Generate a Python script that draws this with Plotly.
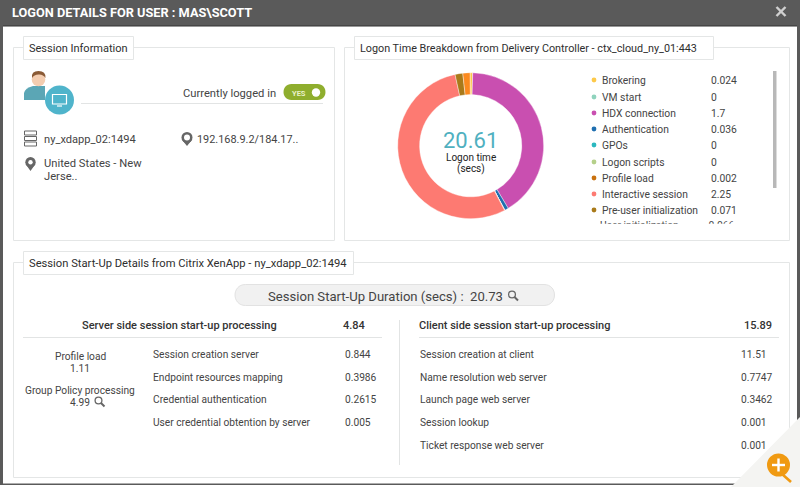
import plotly.graph_objects as go

# donut values
logon_labels = ["Brokering", "VM start", "HDX connection", "Authentication", "GPOs", "Logon scripts",
                "Profile load", "Interactive session", "Pre-user initialization", "User initialization"]
logon_values = [0.024, 0, 1.7, 0.036, 0, 0, 0.002, 2.25, 0.071, 0.066]
logon_text = ["0.024", "0", "1.7", "0.036", "0", "0", "0.002", "2.25", "0.071", "0.066"]
logon_colors = ["#fdc94a", "#8fd3bd", "#c94fb0", "#1f6fb0", "#2bb8bf", "#b5d08a",
                "#c9720f", "#fd7a72", "#a97a1a", "#fb8a1f"]
logon_total = "20.61"

server_labels = ["Session creation server", "Endpoint resources mapping",
                 "Credential authentication", "User credential obtention by server"]
server_values = ["0.844", "0.3986", "0.2615", "0.005"]
client_labels = ["Session creation at client", "Name resolution web server", "Launch page web server",
                 "Session lookup", "Ticket response web server"]
client_values = ["11.51", "0.7747", "0.3462", "0.001", "0.001"]

FONT = "Roboto"
TXT = "#444444"
BORDER = "#e4e6e6"

shapes = []
annotations = []


def rect(x0, y0, x1, y1, fill, line=None, width=1, layer="below"):
    shapes.append(dict(type="rect", x0=x0, y0=y0, x1=x1, y1=y1, fillcolor=fill, layer=layer,
                       line=dict(color=line or fill, width=width if line else 0)))


def circle(cx, cy, r, fill, line=None, width=1):
    shapes.append(dict(type="circle", x0=cx - r, y0=cy - r, x1=cx + r, y1=cy + r, fillcolor=fill,
                       layer="above", line=dict(color=line or fill, width=width if line else 0)))


def seg(x0, y0, x1, y1, color, width=1, layer="below"):
    shapes.append(dict(type="line", x0=x0, y0=y0, x1=x1, y1=y1, layer=layer, line=dict(color=color, width=width)))


def path(d, fill, line=None, width=1):
    shapes.append(dict(type="path", path=d, fillcolor=fill, layer="above",
                       line=dict(color=line or fill, width=width if line else 0)))


def pill(x0, y0, x1, y1, fill, line=None):
    # plotly paths have no arcs, so the round ends are cubic curves
    r = (y1 - y0) / 2
    k = r * 1.33
    path(f"M{x0 + r},{y0} L{x1 - r},{y0} C{x1 - r + k},{y0} {x1 - r + k},{y1} {x1 - r},{y1} "
         f"L{x0 + r},{y1} C{x0 + r - k},{y1} {x0 + r - k},{y0} {x0 + r},{y0} Z", fill, line)


def pin(cx, top, bottom, r, inner):
    cy = top + r
    path(f"M{cx - r * 0.95},{cy + r * 0.35} L{cx},{bottom} L{cx + r * 0.95},{cy + r * 0.35} Z", "#666666")
    circle(cx, cy, r, "#666666")
    circle(cx, cy, inner, "#ffffff")


def text(x, y, s, size=10.2, color=TXT, anchor="left", weight=400):
    annotations.append(dict(x=x, y=y, text=s, showarrow=False, xanchor=anchor, yanchor="middle",
                            borderpad=0, borderwidth=0,
                            font=dict(family=FONT, size=size, color=color, weight=weight)))


def lens(cx, cy, color="#666666"):
    circle(cx, cy, 3.4, "rgba(0,0,0,0)", color, 1.3)
    seg(cx + 2.5, cy + 2.5, cx + 6, cy + 6, color, 2, "above")


def panel(x0, y0, x1, y1, title, tx1, size):
    rect(x0, y0, x1, y1, "#ffffff", BORDER, 1)
    rect(x0 + 10, y0 - 11, tx1, y0 + 12, "#ffffff", BORDER, 1)
    text(x0 + 15, y0 + 1, title, size, "#2e2e2e")


# window frame
rect(0, 0, 800, 487, "#ffffff")
rect(0, 0, 800, 485, "#5a5a5a")
rect(3, 26, 797, 483.5, "#ffffff")
seg(3, 26, 797, 26, "#333333", 1)
text(12, 12, "LOGON DETAILS FOR USER : MAS\\SCOTT", 12.75, "#ffffff", weight=700)
seg(776.5, 7, 785.5, 16, "#d0d0d0", 2.4, "above")
seg(785.5, 7, 776.5, 16, "#d0d0d0", 2.4, "above")

panel(13.5, 47.5, 334.5, 240.5, "Session Information", 133.5, 11)
panel(344.5, 47.5, 789.5, 240.5, "Logon Time Breakdown from Delivery Controller - ctx_cloud_ny_01:443", 713.5, 10.8)
panel(13.5, 262.5, 789.5, 477.5, "Session Start-Up Details from Citrix XenApp - ny_xdapp_02:1494", 353.5, 11.2)

# session info
path("M24,100 L24,93 Q25,88 33,86 L45,86 L45,100 Z", "#5ba6b5")
circle(38.5, 79.5, 6.8, "#f4cdb0")
path("M32,78 Q31,71 38.5,71 Q46,71 45.5,78 Q43,74 38.5,74.5 Q34,74.5 32,78 Z", "#8a5a35")
circle(59.5, 100, 14.5, "#4fb4cb")
rect(52.5, 94.5, 66.5, 104, "rgba(0,0,0,0)", "#ffffff", 1.2, "above")
seg(57, 106, 62, 106, "#ffffff", 1.2, "above")
seg(81, 103.5, 323, 103.5, "#e2e4e4", 1)
text(276, 93, "Currently logged in", 11.2, anchor="right")
pill(283.5, 84, 325.5, 100, "#8fae2e")
circle(316, 92.5, 4.2, "#ffffff")
text(299, 93, "YES", 7.5, "#e9f1c8", "center", 700)
for y in (133, 138.5, 144):
    rect(24.5, y - 2, 36.5, y + 2, "#ffffff", "#666666", 1, "above")
text(43.5, 139, "ny_xdapp_02:1494", 11.1)
pin(187, 132, 146, 5.5, 3)
text(196.5, 139, "192.168.9.2/184.17..", 10.9)
pin(30.5, 157, 171, 5.2, 2.2)
text(43.5, 163, "United States - New", 11.2)
text(43.5, 176.5, "Jerse..", 11.2)

# legend rows next to the donut, last one is cut off by the scroll area
row_y = [80, 97, 113, 129, 145, 162, 178, 194, 210, 226]
for yy, lab, val, col in zip(row_y[:-1], logon_labels, logon_text, logon_colors):
    circle(594, yy, 2.4, col)
    text(602, yy, lab, 10.3)
    text(710.5, yy, val, 10.3)
rect(588, 223.7, 765, 234, "#ffffff", layer="above")
rect(773, 71, 776.5, 188, "#b8b8b8", layer="above")

# donut centre
text(470.5, 140, logon_total, 22, "#4fb0bf", "center")
text(470.5, 157.6, "Logon time", 10, "#222222", "center")
text(470.5, 168.8, "(secs)", 10, "#222222", "center")

# start-up duration pill
pill(235, 284.5, 554.5, 305.5, "#f1f1f1", "#e2e2e2")
text(385, 296.5, "Session Start-Up Duration (secs) :  20.73", 13.1, "#444444", "center")
lens(512, 294.5)

# server side
text(179.5, 325.5, "Server side session start-up processing", 11, "#333333", "center", 500)
text(343, 325.5, "4.84", 11, "#333333", weight=500)
seg(23, 337.5, 382, 337.5, "#e2e4e4", 1)
seg(399.5, 320, 399.5, 465, "#e2e4e4", 1)
text(80, 356, "Profile load", anchor="center")
text(80, 368, "1.11", anchor="center")
text(80, 390, "Group Policy processing", anchor="center")
text(80, 402, "4.99", anchor="center")
lens(98.5, 400.5)
y_rows = [354, 377, 399, 422, 445]
for yy, lab, val in zip(y_rows, server_labels, server_values):
    text(152.5, yy, lab)
    text(344.5, yy, val)

# client side
text(419, 325.5, "Client side session start-up processing", 11, "#333333", weight=500)
text(743.5, 325.5, "15.89", 11, "#333333", weight=500)
seg(419, 337.5, 779, 337.5, "#e2e4e4", 1)
for yy, lab, val in zip(y_rows, client_labels, client_values):
    text(419.5, yy, lab)
    text(740.5, yy, val)

# corner zoom button
path("M800,417 L800,487 L731,487 Z", "#f4f4f2")
seg(782, 474, 791, 482, "#f09a12", 2.6, "above")
circle(778.5, 465, 11.5, "#f09a12")
seg(772, 465, 785, 465, "#ffffff", 2.4, "above")
seg(778.5, 458.5, 778.5, 471.5, "#ffffff", 2.4, "above")

fig = go.Figure()
# only the clipped row goes in as a trace, so the white cover above can hide its lower part
fig.add_trace(go.Scatter(x=[600, 708.5], y=[226, 226], mode="text", text=[logon_labels[-1], logon_text[-1]],
                         textposition="middle right", textfont=dict(family=FONT, size=10.3, color=TXT),
                         hoverinfo="skip", showlegend=False))
fig.add_trace(go.Pie(labels=logon_labels, values=logon_values, sort=False, direction="clockwise", rotation=-0.5,
                     hole=0.7, textinfo="none", hoverinfo="label+value", showlegend=False,
                     marker=dict(colors=logon_colors, line=dict(color="#ffffff", width=0.4)),
                     domain=dict(x=[(470.7 - 73) / 800, (470.7 + 73) / 800],
                                 y=[1 - (145.7 + 73) / 487, 1 - (145.7 - 73) / 487])))
fig.update_layout(width=800, height=487, margin=dict(l=0, r=0, t=0, b=0), autosize=False,
                  paper_bgcolor="#ffffff", plot_bgcolor="rgba(0,0,0,0)", shapes=shapes, annotations=annotations,
                  xaxis=dict(range=[0, 800], visible=False, fixedrange=True),
                  yaxis=dict(range=[487, 0], visible=False, fixedrange=True))
fig.write_html("out.html", config=dict(displayModeBar=False),
               post_script="document.body.style.margin='0';document.body.style.overflow='hidden';")
